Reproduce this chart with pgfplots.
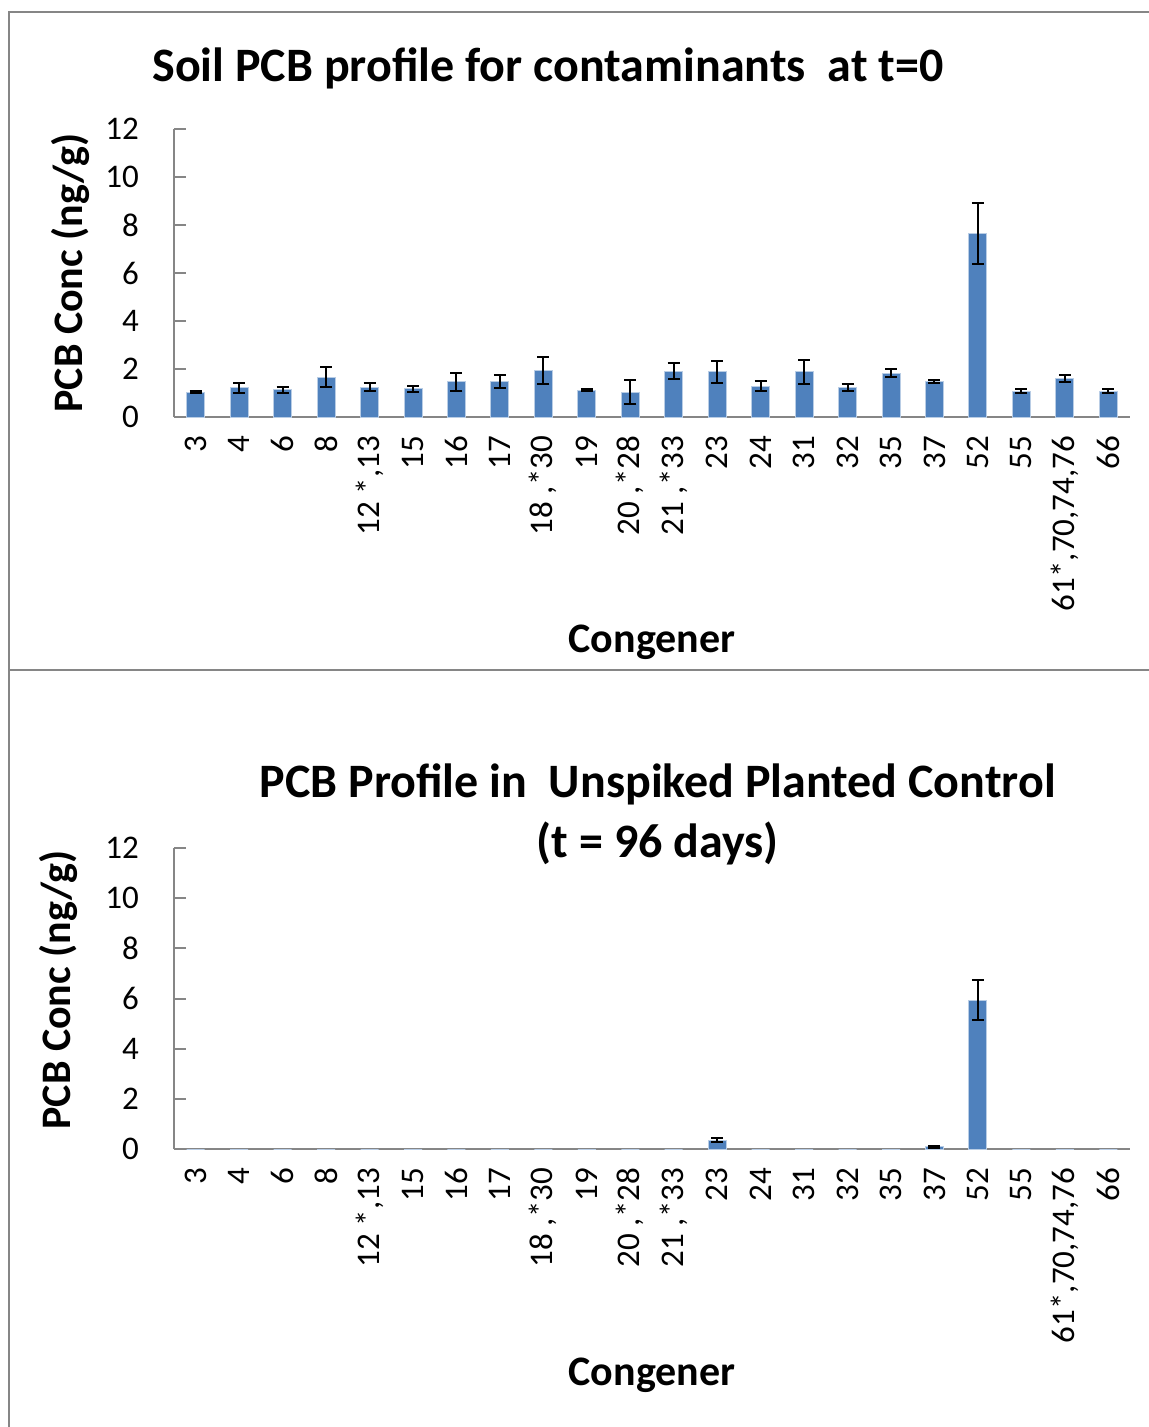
\documentclass[border=0pt]{standalone}
\usepackage{pgfplots}
\pgfplotsset{compat=1.18}
\usepackage{fontspec}
\setmainfont{Carlito}
\definecolor{barblue}{RGB}{79,129,189}
\definecolor{baredge}{RGB}{185,205,229}
\definecolor{axgray}{RGB}{134,134,134}

\pgfplotsset{
 pcbaxis/.style={
  scale only axis, width=478pt,
  xmin=-0.5, xmax=21.5, ymin=0, ymax=12,
  ytick={0,2,...,12},
  xtick={0,...,21},
  xticklabels={3,4,6,8,{12 *,13},15,16,17,{18 ,*30},19,{20 ,*28},{21 ,*33},23,24,31,32,35,37,52,55,{61*,70,74,76},66},
  axis lines*=left,
  axis line style={draw=axgray, line width=1pt},
  xtick style={draw=none},
  ytick style={draw=axgray, line width=1pt},
  major tick length=6pt,
  ytick align=inside,
  tick label style={font=\fontsize{16.5}{19}\selectfont},
  /pgf/number format/assume math mode=true,
  yticklabel style={xshift=-14pt},
  xticklabel style={rotate=90, anchor=east, xshift=-6pt},
  label style={font=\bfseries\fontsize{21}{25}\selectfont},
  title style={font=\bfseries\fontsize{24}{30}\selectfont, anchor=center, align=center},
  xlabel={Congener},
  ylabel={PCB Conc (ng/g)},
 },
 barsty/.style={ybar, bar width=9pt, fill=barblue, draw=baredge, line width=0.5pt},
 errsty/.style={error bars/.cd, y dir=both, y explicit,
   error bar style={black, line width=1pt},
   error mark options={black, rotate=90, mark size=3pt, line width=1pt}},
}

\pgfplotstableread{
x y e
0 1.04 0.03
1 1.21 0.20
2 1.13 0.11
3 1.65 0.42
4 1.24 0.17
5 1.17 0.12
6 1.46 0.36
7 1.46 0.27
8 1.93 0.56
9 1.12 0.05
10 1.04 0.51
11 1.90 0.33
12 1.88 0.46
13 1.29 0.21
14 1.88 0.50
15 1.22 0.15
16 1.83 0.17
17 1.49 0.06
18 7.65 1.26
19 1.08 0.08
20 1.61 0.15
21 1.08 0.07
}\tzero

\pgfplotstableread{
x y
0 0
1 0
2 0
3 0
4 0
5 0
6 0
7 0
8 0
9 0
10 0
11 0
12 0.35
13 0
14 0
15 0
16 0
17 0.10
18 5.94
19 0
20 0
21 0
}\tctrl

\pgfplotstableread{
x y e
12 0.35 0.07
17 0.10 0.04
18 5.94 0.80
}\tctrlerr

\begin{document}
\begin{tikzpicture}
\path[use as bounding box] (0,0) rectangle (574.5pt,-713.5pt);
\draw[axgray, line width=0.75pt] (4.5pt,-713.5pt) -- (4.5pt,-6pt) -- (574.5pt,-6pt);
\draw[axgray, line width=0.75pt] (4.5pt,-335pt) -- (574.5pt,-335pt);

\begin{axis}[pcbaxis, height=144pt, at={(87pt,-208.5pt)}, anchor=south west,
  title={Soil PCB profile for contaminants\ \ at t=0},
  title style={at={(axis description cs:0.391,1.17)}},
  xlabel style={at={(axis description cs:0.5,-0.781)}, anchor=center},
  ylabel style={at={(axis description cs:-0.1088,0.5)}, anchor=center},
]
\addplot[barsty, errsty] table[x=x, y=y, y error=e] {\tzero};
\end{axis}

\begin{axis}[pcbaxis, height=150.5pt, at={(87pt,-574.5pt)}, anchor=south west,
  title={PCB Profile in\ \ Unspiked Planted Control\\(t = 96 days)},
  title style={at={(axis description cs:0.506,1.073)}},
  xlabel style={at={(axis description cs:0.5,-0.751)}, anchor=center},
  ylabel style={at={(axis description cs:-0.1213,0.528)}, anchor=center},
]
\addplot[barsty] table[x=x, y=y] {\tctrl};
\addplot[draw=none, mark=none, forget plot, errsty] table[x=x, y=y, y error=e] {\tctrlerr};
\end{axis}
\end{tikzpicture}
\end{document}
